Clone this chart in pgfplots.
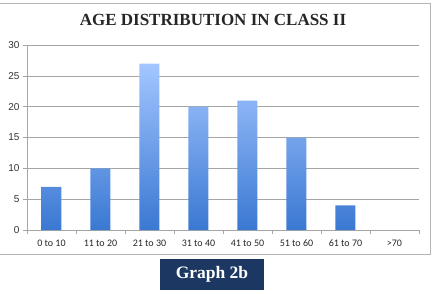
\documentclass[border=0pt]{standalone}
\usepackage{pgfplots}
\pgfplotsset{compat=1.18}
\usepackage{fontspec}
\setmainfont{Carlito}
\newfontfamily\titlefont{Liberation Serif}
\newfontfamily\tickfont{Liberation Sans}
\definecolor{bartop}{HTML}{A3C6FF}
\definecolor{barbot}{HTML}{3A78D2}
\definecolor{gridc}{HTML}{A6A6A6}
\definecolor{framec}{HTML}{B5B5B5}
\definecolor{navy}{HTML}{1C3862}
\begin{document}
\begin{tikzpicture}
\path[use as bounding box] (0pt,0pt) rectangle (434pt,-293pt);
\draw[framec, line width=1pt] (-1pt,-3pt) -- (430.5pt,-3pt) -- (430.5pt,-254pt) -- (-1pt,-254pt);
\node[font=\titlefont\bfseries\fontsize{17}{20}\selectfont, text=black!85] at (213pt,-20pt) {AGE DISTRIBUTION IN CLASS II};
\begin{axis}[
  at={(27pt,-230pt)}, anchor=south west,
  scale only axis, width=392pt, height=185pt,
  xmin=-0.5, xmax=7.5, ymin=0, ymax=30,
  axis x line*=bottom, axis y line*=left,
  axis line style={gridc, line width=0.6pt},
  xtick={-0.5,0.5,...,7.5},
  x tick label as interval,
  xticklabels={0 to 10,11 to 20,21 to 30,31 to 40,41 to 50,51 to 60,61 to 70,>70},
  x tick label style={font=\fontsize{10}{11}\selectfont, text=black!85, yshift=-2pt},
  ytick={0,5,...,30},
  y tick label style={font=\tickfont\fontsize{10}{11}\selectfont, text=black!80},
  /pgf/number format/assume math mode=true,
  ymajorgrids, grid style={gridc, line width=0.6pt},
  tick style={draw=gridc, line width=0.6pt},
  tick align=outside, major tick length=4pt,
  clip=false,
]
\addplot[ybar, bar width=20pt, draw=none, top color=bartop, bottom color=barbot] coordinates {
(0,7) (1,10) (2,27) (3,20) (4,21) (5,15) (6,4)};
\end{axis}
\node[fill=navy, minimum width=104pt, minimum height=31pt, inner sep=0pt, text=white, font=\titlefont\bfseries\fontsize{17.5}{20}\selectfont] at (212pt,-274.5pt) {Graph 2b};
\end{tikzpicture}
\end{document}
